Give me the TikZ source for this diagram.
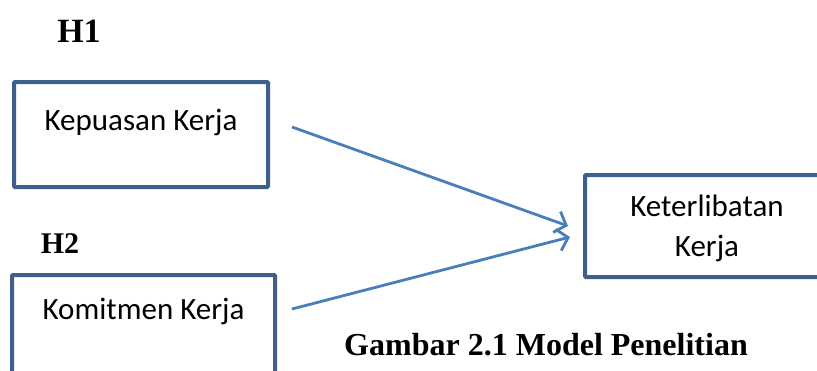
\documentclass[tikz,border=0pt]{standalone}
\usepackage{fontspec}
\setmainfont{Liberation Serif}
\newfontfamily\boxfont{Carlito}
\usetikzlibrary{arrows.meta}
\definecolor{boxblue}{HTML}{3C5F8C}
\definecolor{arrowblue}{HTML}{4A7EBB}
\tikzset{
  boxframe/.style={draw=boxblue, line width=4pt, rounded corners=1pt, inner sep=0pt},
  boxtext/.style={font=\boxfont\fontsize{31}{36}\selectfont, inner sep=0pt, align=center},
  hlabel/.style={font=\bfseries\fontsize{34}{38}\selectfont, inner sep=0pt},
  conn/.style={draw=arrowblue, line width=2.8pt, -{Straight Barb[length=10pt, width=22pt, line width=2.8pt]}}
}
\begin{document}
\begin{tikzpicture}[x=1pt, y=-1pt]
\useasboundingbox (0,0) rectangle (817,370);
\clip (0,0) rectangle (817,370);
\fill[white] (0,0) rectangle (817,370);
% boxes
\draw[boxframe] (14,82) rectangle (268,187);
\node[draw=none, minimum width=254pt, minimum height=105pt, inner sep=0pt] (b1) at (141,134.5) {};
\draw[boxframe] (12,275) rectangle (275,385);
\node[draw=none, minimum width=263pt, minimum height=110pt, inner sep=0pt] (b2) at (143.5,330) {};
\draw[boxframe] (585,175) rectangle (830,277);
\node[draw=none, minimum width=245pt, minimum height=102pt, inner sep=0pt] (b3) at (707.5,226) {};
% texts
\node[boxtext] (t1) at (141,122) {Kepuasan Kerja};
\node[boxtext] (t2) at (143.5,311) {Komitmen Kerja};
\node[boxtext] (t3) at (707,206) {Keterlibatan};
\node[boxtext] (t4) at (707,248) {Kerja};
% labels
\node[hlabel] (h1) at (79,31) {H1};
\node[hlabel, font=\bfseries\fontsize{30}{34}\selectfont] (h2) at (60,244) {H2};
\node[hlabel, font=\bfseries\fontsize{32}{36}\selectfont] (cap) at (546,345) {Gambar 2.1 Model Penelitian};
% arrows
\coordinate (s1) at (292,127);
\coordinate (e1) at (568,226);
\coordinate (s2) at (292,309);
\coordinate (e2) at (570,237);
\draw[conn] (s1) -- (e1);
\draw[conn] (s2) -- (e2);
\end{tikzpicture}
\end{document}
